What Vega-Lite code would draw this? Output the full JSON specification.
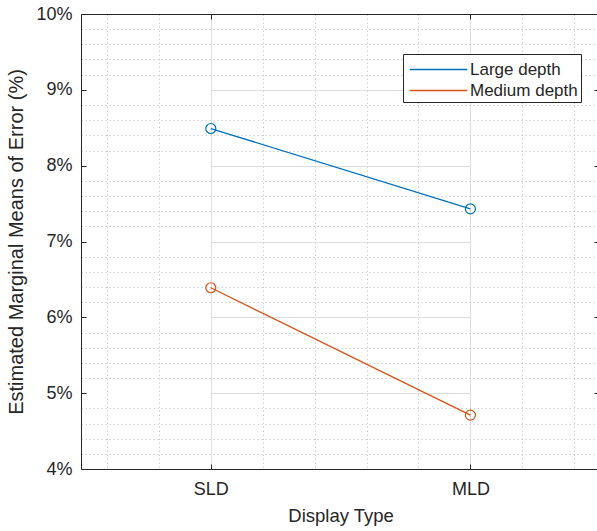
{
  "$schema": "https://vega.github.io/schema/vega-lite/v6.json",
  "width": 516,
  "height": 455,
  "autosize": "none",
  "padding": {"left": 81, "top": 14, "right": 0, "bottom": 62},
  "background": "white",
  "config": {
    "font": "Liberation Sans",
    "view": {"stroke": null},
    "axis": {"labelColor": "#262626", "titleColor": "#262626", "titleFontWeight": "normal", "labelFont": "Liberation Sans", "titleFont": "Liberation Sans"}
  },
  "data": {
    "values": [
      {"display": "SLD", "depth": "Large depth", "error": 8.49},
      {"display": "MLD", "depth": "Large depth", "error": 7.43},
      {"display": "SLD", "depth": "Medium depth", "error": 6.39},
      {"display": "MLD", "depth": "Medium depth", "error": 4.71}
    ]
  },
  "layer": [
    {
      "mark": {"type": "point", "opacity": 0},
      "encoding": {
        "x": {"datum": 1.5, "type": "quantitative", "scale": {"domain": [0.5, 2.4877], "nice": false, "zero": false},
          "axis": {"orient": "bottom", "values": [0.6, 0.8, 1.2, 1.4, 1.6, 1.8, 2.2, 2.4], "grid": true, "gridDash": [1.5, 2.5], "gridColor": "#c8c8c8", "gridWidth": 0.8, "labels": false, "ticks": false, "domain": true, "domainColor": "#262626", "domainWidth": 1, "title": null}},
        "y": {"field": "error", "type": "quantitative", "scale": {"domain": [4, 10], "nice": false, "zero": false},
          "axis": {"orient": "left", "values": [4.2, 4.4, 4.6, 4.8, 5.2, 5.4, 5.6, 5.8, 6.2, 6.4, 6.6, 6.8, 7.2, 7.4, 7.6, 7.8, 8.2, 8.4, 8.6, 8.8, 9.2, 9.4, 9.6, 9.8], "grid": true, "gridDash": [1.5, 2.5], "gridColor": "#c8c8c8", "gridWidth": 0.8, "labels": false, "ticks": false, "domain": false, "title": null}}
      }
    },
    {
      "mark": {"type": "point", "opacity": 0},
      "encoding": {
        "x": {"datum": 1.5, "type": "quantitative", "scale": {"domain": [0.5, 2.4877], "nice": false, "zero": false},
          "axis": {"orient": "top", "values": [1], "grid": false, "labels": false, "ticks": false, "domain": true, "domainColor": "#262626", "domainWidth": 1, "title": null}},
        "y": {"field": "error", "type": "quantitative", "scale": {"domain": [4, 10], "nice": false, "zero": false}, "axis": null}
      }
    },
    {
      "mark": {"type": "point", "opacity": 0},
      "encoding": {
        "x": {"field": "display", "type": "nominal", "sort": ["SLD", "MLD"], "scale": {"type": "point", "range": [129.8, 389.4], "padding": 0},
          "axis": {"orient": "bottom", "grid": true, "gridColor": "#dedede", "gridWidth": 1, "ticks": false, "domain": false, "labelAngle": 0, "labelFontSize": 18, "labelPadding": 11, "title": "Display Type", "titleFontSize": 18.5, "titlePadding": 8}},
        "y": {"field": "error", "type": "quantitative", "scale": {"domain": [4, 10], "nice": false, "zero": false},
          "axis": {"orient": "left", "values": [4, 5, 6, 7, 8, 9, 10], "labelExpr": "datum.value + '%'", "grid": true, "gridColor": "#dedede", "gridWidth": 1, "ticks": false, "domain": true, "domainColor": "#262626", "domainWidth": 1, "labelFontSize": 18, "labelPadding": 9, "title": "Estimated Marginal Means of Error (%)", "titleFontSize": 20, "titlePadding": 9}}
      }
    },
    {
      "mark": {"type": "point", "opacity": 0},
      "encoding": {
        "x": {"field": "display", "type": "nominal", "sort": ["SLD", "MLD"], "scale": {"type": "point", "range": [129.8, 389.4], "padding": 0},
          "axis": {"orient": "bottom", "grid": false, "ticks": true, "tickSize": -5, "tickColor": "#262626", "labels": false, "domain": false, "title": null}},
        "y": {"field": "error", "type": "quantitative", "scale": {"domain": [4, 10], "nice": false, "zero": false},
          "axis": {"orient": "left", "values": [4, 5, 6, 7, 8, 9, 10], "grid": false, "ticks": true, "tickSize": -5, "tickColor": "#262626", "labels": false, "domain": false, "title": null}}
      }
    },
    {
      "mark": {"type": "point", "opacity": 0},
      "encoding": {
        "x": {"field": "display", "type": "nominal", "sort": ["SLD", "MLD"], "scale": {"type": "point", "range": [129.8, 389.4], "padding": 0},
          "axis": {"orient": "top", "grid": false, "ticks": true, "tickSize": -5, "tickColor": "#262626", "labels": false, "domain": false, "title": null}},
        "y": {"field": "error", "type": "quantitative", "scale": {"domain": [4, 10], "nice": false, "zero": false},
          "axis": {"orient": "right", "values": [4, 5, 6, 7, 8, 9, 10], "grid": false, "ticks": true, "tickSize": -3, "tickColor": "#262626", "labels": false, "domain": false, "title": null}}
      }
    },
    {
      "mark": {"type": "line", "strokeWidth": 1.3},
      "encoding": {
        "x": {"field": "display", "type": "nominal", "sort": ["SLD", "MLD"], "scale": {"type": "point", "range": [129.8, 389.4], "padding": 0}, "axis": null},
        "y": {"field": "error", "type": "quantitative", "scale": {"domain": [4, 10], "nice": false, "zero": false}, "axis": null},
        "color": {"field": "depth", "type": "nominal",
          "scale": {"domain": ["Large depth", "Medium depth"], "range": ["#0072BD", "#D95319"]},
          "legend": {"orient": "none", "legendX": 322, "legendY": 40, "title": null, "strokeColor": "#262626", "fillColor": "white", "padding": 3, "symbolType": "M-2.5,0H2.5", "symbolSize": 529, "symbolOffset": 20, "symbolFillColor": "transparent", "symbolStrokeWidth": 1.3, "labelFontSize": 17, "labelFont": "Liberation Sans", "labelColor": "#262626", "labelOffset": 19, "rowPadding": 0, "cornerRadius": 0}}
      }
    },
    {
      "mark": {"type": "point", "shape": "circle", "filled": false, "size": 100, "strokeWidth": 1.2, "opacity": 1},
      "encoding": {
        "x": {"field": "display", "type": "nominal", "sort": ["SLD", "MLD"], "scale": {"type": "point", "range": [129.8, 389.4], "padding": 0}, "axis": null},
        "y": {"field": "error", "type": "quantitative", "scale": {"domain": [4, 10], "nice": false, "zero": false}, "axis": null},
        "color": {"field": "depth", "type": "nominal", "legend": null}
      }
    }
  ],
  "resolve": {"scale": {"x": "independent"}, "axis": {"x": "independent", "y": "independent"}}
}
